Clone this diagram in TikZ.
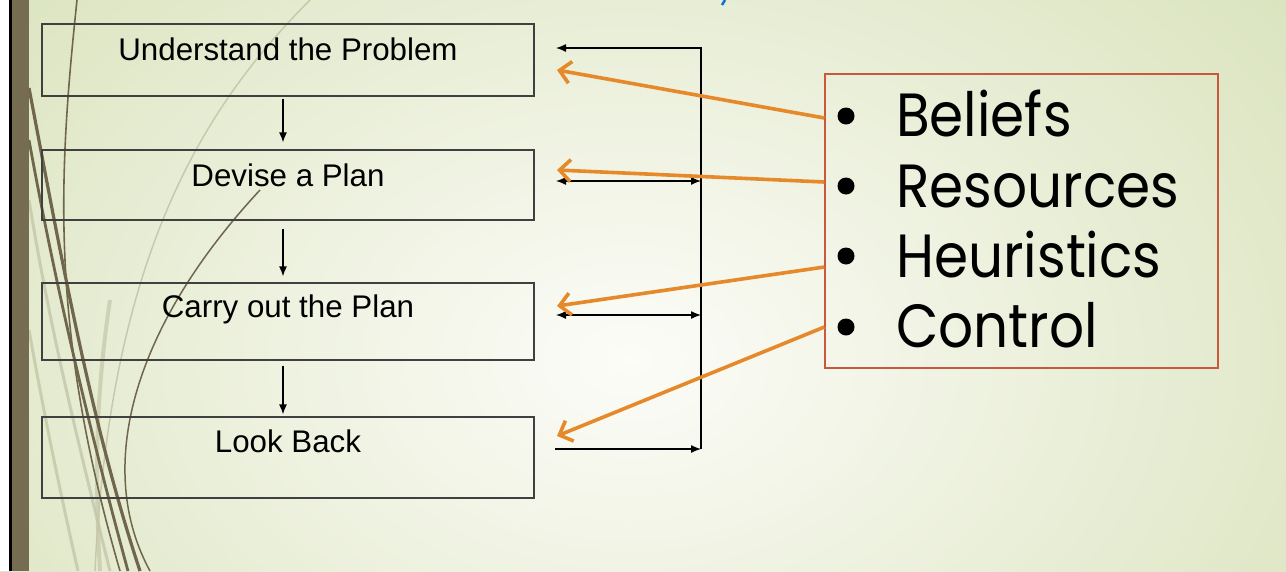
\documentclass[tikz,border=0pt]{standalone}
\usepackage{fontspec}
\setmainfont{Liberation Sans}
\newfontfamily\gothic[FakeStretch=0.9]{Poppins}
\usetikzlibrary{arrows.meta}
\definecolor{bgin}{RGB}{252,252,248}
\definecolor{bgout}{RGB}{216,226,186}
\definecolor{barbrown}{RGB}{117,108,81}
\definecolor{curvebrown}{RGB}{112,102,76}
\definecolor{fadecurve}{RGB}{196,198,168}
\definecolor{orng}{RGB}{230,137,42}
\definecolor{redbox}{RGB}{200,88,62}
\definecolor{titleblue}{RGB}{20,110,210}
\tikzset{
  pbox/.style={draw=black!75, line width=1.3pt, minimum width=492pt, inner sep=0pt},
  ptext/.style={font=\fontsize{31.3}{36}\selectfont, anchor=base, inner sep=0pt},
  blkarr/.style={draw=black, line width=1.3pt, -{Latex[length=10pt,width=8pt]}},
  blkdbl/.style={draw=black, line width=1.3pt, {Latex[length=10pt,width=8pt]}-{Latex[length=10pt,width=8pt]}},
  orarr/.style={draw=orng, line width=3.6pt, -{Straight Barb[length=11pt,width=22pt]}},
  itemtext/.style={font=\gothic\fontsize{61}{70}\selectfont, anchor=base west, inner sep=0pt},
  bullet/.style={circle, fill=black, minimum size=17pt, inner sep=0pt},
  deco/.style={draw=curvebrown},
  fade/.style={draw=fadecurve}
}
\begin{document}
\begin{tikzpicture}[x=1pt,y=-1pt]
\useasboundingbox (0,0) rectangle (1286,571);
% background
\begin{scope}
\clip (0,0) rectangle (1286,571);
\fill[bgout] (0,0) rectangle (1286,571);
\shade[inner color=bgin, outer color=bgout] (630,360) ellipse [x radius=900, y radius=640];
% faded curves
\draw[fade, line width=3pt, opacity=0.8] (29,200) .. controls (50,330) and (80,450) .. (110,571);
\draw[fade, line width=3pt, opacity=0.8] (29,330) .. controls (45,420) and (62,500) .. (78,571);
\draw[fade, line width=4pt, opacity=0.7] (110,300) .. controls (95,400) and (95,480) .. (100,571);
\draw[fade, line width=1.5pt, opacity=0.9] (310,0) .. controls (200,110) and (110,260) .. (95,571);
% dark curves
\draw[deco, line width=1.6pt] (77,0) .. controls (58,180) and (50,330) .. (120,571);
\draw[deco, line width=3.2pt] (29,88) .. controls (60,250) and (90,420) .. (140,571);
\draw[deco, line width=2.8pt] (29,140) .. controls (58,300) and (95,450) .. (128,571);
\draw[deco, line width=1.5pt] (260,190) .. controls (130,330) and (95,470) .. (150,571);
\end{scope}
% left bar
\fill[white] (0,0) rectangle (9,571);
\fill[black] (9,0) rectangle (12,571);
\fill[barbrown] (12,0) rectangle (29,571);
% title fragment
\draw[titleblue, line width=2.5pt] (725,0) -- (722,5);
% boxes
\node[pbox, minimum height=72pt] (u) at (288,60) {};
\node[pbox, minimum height=70pt] (d) at (288,185) {};
\node[pbox, minimum height=77pt] (c) at (288,321.5) {};
\node[pbox, minimum height=81pt] (l) at (288,457.5) {};
\node[ptext] (ut) at (288,60) {Understand the Problem};
\node[ptext] (dt) at (288,186) {Devise a Plan};
\node[ptext] (ct) at (288,317) {Carry out the Plan};
\node[ptext] (lt) at (288,452) {Look Back};
% down arrows
\draw[blkarr] ([xshift=-5pt,yshift=-2pt]u.south) -- ([xshift=-5pt,yshift=7pt]d.north);
\draw[blkarr] ([xshift=-5pt,yshift=-8pt]d.south) -- ([xshift=-5pt,yshift=6pt]c.north);
\draw[blkarr] ([xshift=-5pt,yshift=-5pt]c.south) -- ([xshift=-5pt,yshift=2pt]l.north);
% feedback loop
\coordinate (fbT) at (701,48);
\coordinate (fbB) at (701,449);
\coordinate (fbD) at (701,181);
\coordinate (fbC) at (701,315);
\coordinate (inU) at (556,48);
\coordinate (inD) at (556,181);
\coordinate (inC) at (556,315);
\coordinate (outL) at (555,449);
\draw[blkarr] (outL) -- (fbB);
\draw[blkarr] (fbB) -- (fbT) -- (inU);
\draw[blkdbl] (inD) -- (fbD);
\draw[blkdbl] (inC) -- (fbC);
% right box
\node[draw=redbox, line width=1.2pt, minimum width=393pt, minimum height=294pt, inner sep=0pt] (rb) at (1021.5,221) {};
\node[bullet] (b1) at (846,116) {};
\node[bullet] (b2) at (846,186) {};
\node[bullet] (b3) at (846,256) {};
\node[bullet] (b4) at (846,327) {};
\node[itemtext] (i1) at (896,136) {Beliefs};
\node[itemtext] (i2) at (896,207) {Resources};
\node[itemtext] (i3) at (896,277) {Heuristics};
\node[itemtext] (i4) at (896,347) {Control};
% orange arrows
\coordinate (o1) at (rb.west |- 0,118);
\coordinate (o2) at (rb.west |- 0,182);
\coordinate (o3) at (rb.west |- 0,267);
\coordinate (o4) at (rb.west |- 0,327);
\coordinate (e1) at (557,70);
\coordinate (e2) at (557,170);
\coordinate (e3) at (557,306);
\coordinate (e4) at (557,436);
\draw[orarr] (o1) -- (e1);
\draw[orarr] (o2) -- (e2);
\draw[orarr] (o3) -- (e3);
\draw[orarr] (o4) -- (e4);
\end{tikzpicture}
\end{document}
